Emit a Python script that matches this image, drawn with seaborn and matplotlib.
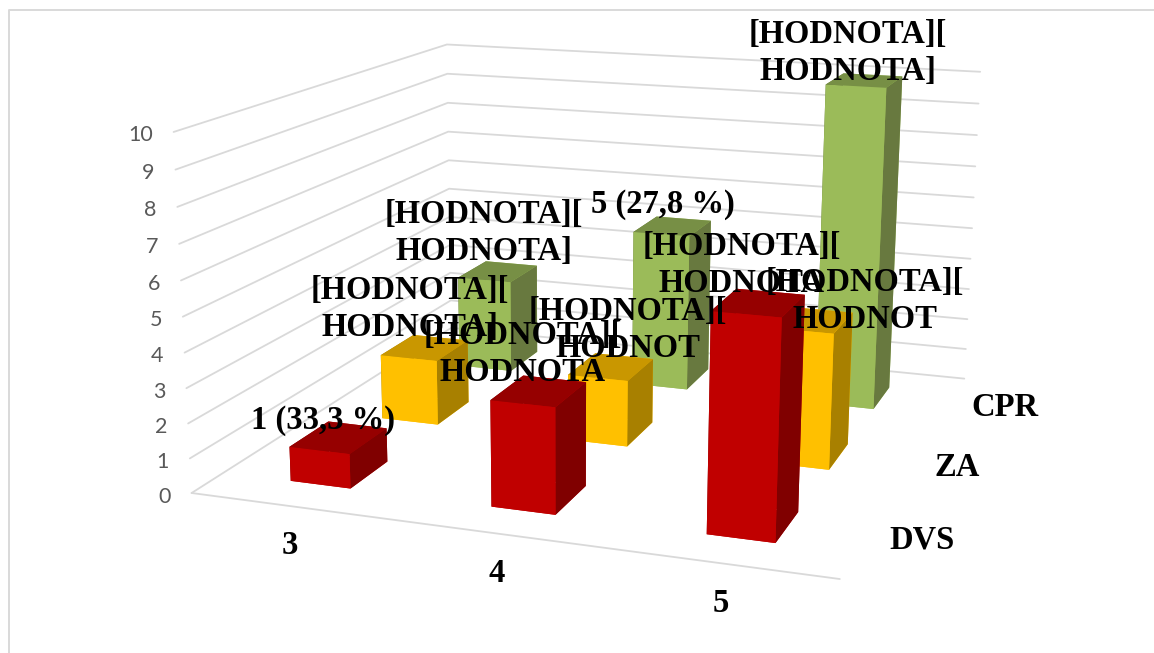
import numpy as np
import matplotlib
matplotlib.use("Agg")
import matplotlib.pyplot as plt
from matplotlib.lines import Line2D
import seaborn as sns

# Chart data
grades = ["3", "4", "5"]
series_names = ["DVS", "ZA", "CPR"]
dvs_counts = [1, 3, 6]
za_counts = [2, 2, 4]
cpr_counts = [3, 5, 10]
value_ticks = list(range(0, 11))

dvs_labels = ["1 (33,3 %)", "[HODNOTA][\nHODNOTA", "[HODNOTA][\nHODNOTA"]
za_labels = ["[HODNOTA][\nHODNOTA]", "[HODNOTA][\nHODNOT", "[HODNOTA][\nHODNOT"]
cpr_labels = ["[HODNOTA][\nHODNOTA]", "5 (27,8 %)", "[HODNOTA][\nHODNOTA]"]

W, H = 1154, 653
sns.set_theme(style="white")
plt.rcParams["font.family"] = ["Liberation Serif", "DejaVu Serif"]

front_colors = sns.color_palette(["#C00000", "#FFC000", "#9BBB59"])
side_colors = sns.color_palette(["#800000", "#A88000", "#68793F"])
top_colors = sns.color_palette(["#960000", "#C99700", "#778F45"])

fig = plt.figure(figsize=(W / 100, H / 100), dpi=100, facecolor="white")
side = 1300
ax = fig.add_axes([(W - side) / 2 / W, (H - side) / 2 / H, side / W, side / H],
                  projection="3d", computed_zorder=False)
ax.set_axis_off()
ax.patch.set_visible(False)


def solve_camera(world, pixels):
    """Direct linear transform from 3D box corners to figure pixels."""
    rows = []
    for (X, Y, Z), (u, v) in zip(world, pixels):
        u, v = u / 1000, (H - v) / 1000
        rows.append([X, Y, Z, 1, 0, 0, 0, 0, -u * X, -u * Y, -u * Z, -u])
        rows.append([0, 0, 0, 0, X, Y, Z, 1, -v * X, -v * Y, -v * Z, -v])
    P = np.linalg.svd(np.array(rows))[2][-1].reshape(3, 4)
    P[:2] *= 1000
    if P[2] @ np.array([0, 0, 0, 1]) < 0:
        P = -P
    return P / P[2, 3]


# The plot box spans three categories, three series and ten value units.
box_world = [(0, 0, 0), (0, 0, 10), (0, 3, 0), (0, 3, 10),
             (3, 3, 0), (3, 3, 10), (3, 0, 0)]
box_pixels = [(191.7, 492.7), (173.3, 132.3), (451, 328), (447.3, 44.3),
              (964.3, 378.7), (980, 71.7), (840, 579)]
camera = solve_camera(box_world, box_pixels)
ax.apply_aspect()
to_view = np.linalg.inv(ax.transData.get_matrix())
view = to_view @ camera
proj = np.vstack([view[0], view[1], [0, 0, 0, -1], view[2]])
ax.get_proj = lambda: proj

# Gridlines on the side and back walls, then the front floor edge
grid_color = "#D9D9D9"
for v in value_ticks:
    ax.plot([0, 0, 3], [0, 3, 3], [v, v, v], color=grid_color, lw=1.3, zorder=1)
ax.plot([0, 3], [0, 0], [0, 0], color=grid_color, lw=1.3, zorder=1)

# Bars, far row first so nearer rows paint over it
bar_dx, bar_dy = 0.305, 0.40
all_counts = [dvs_counts, za_counts, cpr_counts]
for row in [2, 1, 0]:
    for col, count in enumerate(all_counts[row]):
        # bar3d face order: bottom, top, front, back, left, right
        faces = [front_colors[row], top_colors[row], front_colors[row],
                 front_colors[row], side_colors[row], side_colors[row]]
        ax.bar3d(col + 0.5 - bar_dx / 2, row + 0.5 - bar_dy / 2, 0,
                 bar_dx, bar_dy, count, color=faces, shade=False,
                 linewidth=0, zorder=5 + (2 - row))


def px_text(x, y, s, size, **kw):
    fig.text(x / W, 1 - y / H, s, fontsize=size, ha=kw.pop("ha", "center"),
             va="center", **kw)


# Value axis labels follow the front left edge
for v in value_ticks:
    u, w, d = camera @ np.array([0, 0, v, 1.0])
    px_text(u / d - 21, H - w / d + 3.5, str(v), 15.5, family="Lato",
            color="#595959", ha="right", zorder=20)

# Data labels
dvs_pos = [(323, 421), (523, 354), (742, 265)]
za_pos = [(410, 309), (628, 330), (865, 301)]
cpr_pos = [(484, 233), (663, 205), (848, 53)]
for texts, places in [(cpr_labels, cpr_pos), (za_labels, za_pos), (dvs_labels, dvs_pos)]:
    for s, (x, y) in zip(texts, places):
        px_text(x, y, s, 23.5, fontweight="bold", color="black",
                linespacing=1.22, zorder=30)

# Category and series names
for s, (x, y) in zip(grades, [(290, 545), (497, 573), (721, 604)]):
    px_text(x, y, s, 23.5, fontweight="bold", color="black")
for s, (x, y) in zip(series_names, [(922, 540), (957, 468), (1005, 407)]):
    px_text(x, y, s, 23.5, fontweight="bold", color="black")

# Chart area outline runs along the top and left only
fig.add_artist(Line2D([9 / W, 9 / W, 1], [0, 1 - 10 / H, 1 - 10 / H],
                      transform=fig.transFigure, color="#D9D9D9", lw=1.4))

fig.savefig("out.png", dpi=100)
